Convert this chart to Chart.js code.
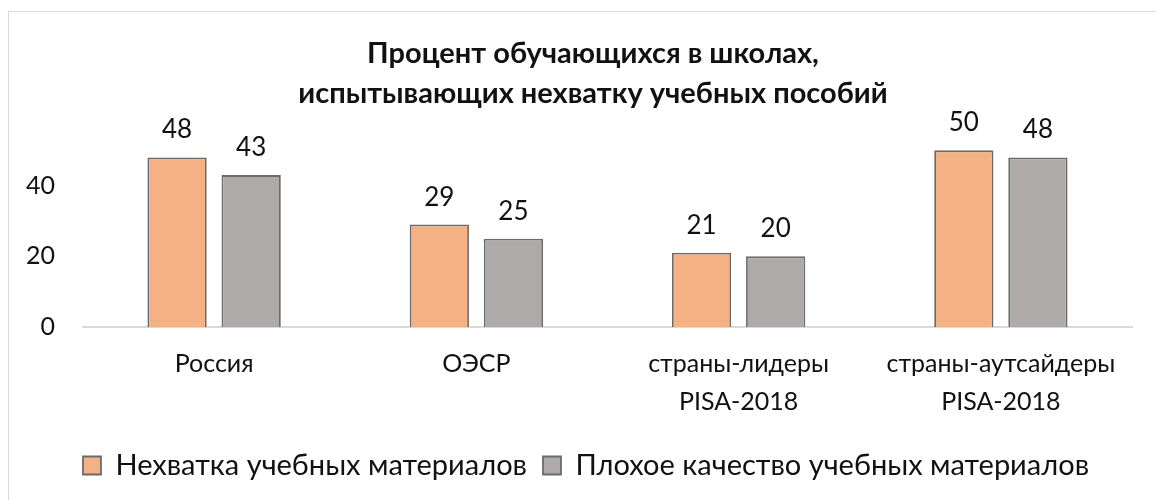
<!DOCTYPE html>
<html>
<head>
<meta charset="utf-8">
<script src="https://cdn.jsdelivr.net/npm/chart.js@4.4.1/dist/chart.umd.min.js"></script>
<style>
  html, body { margin: 0; padding: 0; background: #fff; overflow: hidden; }
  #wrap { position: relative; width: 1156px; height: 500px; }
  #frame { position: absolute; left: 8px; top: 11px; width: 1200px; height: 600px; border: 1.5px solid #d9d9d9; box-sizing: border-box; }
  canvas { position: absolute; left: 0; top: 0; }
</style>
</head>
<body>
<div id="wrap">
  <div id="frame"></div>
  <canvas id="c" width="1156" height="500"></canvas>
</div>
<script>
const categories = [["Россия"], ["ОЭСР"], ["страны-лидеры", "PISA-2018"], ["страны-аутсайдеры", "PISA-2018"]];
const shortageValues = [48, 29, 21, 50];
const poorQualityValues = [43, 25, 20, 48];
const seriesNames = ["Нехватка учебных материалов", "Плохое качество учебных материалов"];
const yTicks = [0, 20, 40];
const titleLines = ["Процент обучающихся в школах,", "испытывающих нехватку учебных пособий"];

const FONT = "Lato, 'Open Sans', sans-serif";

const valueLabels = {
  id: 'valueLabels',
  afterDatasetsDraw(chart) {
    const ctx = chart.ctx;
    ctx.save();
    ctx.font = "26px " + FONT;
    ctx.fillStyle = "#111";
    ctx.textAlign = "center";
    ctx.textBaseline = "alphabetic";
    chart.data.datasets.forEach((ds, i) => {
      chart.getDatasetMeta(i).data.forEach((bar, j) => {
        ctx.fillText(String(ds.data[j]), bar.x, bar.y - 19);
      });
    });
    ctx.restore();
  }
};

// nudge title and legend boxes to match the reference's centring
const shiftBoxes = {
  id: 'shiftBoxes',
  afterLayout(chart) {
    const t = chart.titleBlock;
    if (t) { t.left += 27; t.right += 27; t.top += 2; t.bottom += 2; }
    const l = chart.legend;
    if (l) { l.left += 20; l.right += 20; l.top -= 4; l.bottom -= 4; }
  }
};

new Chart(document.getElementById('c'), {
  type: 'bar',
  data: {
    labels: categories,
    datasets: [
      { label: seriesNames[0], data: shortageValues, backgroundColor: '#F4B183', borderColor: '#6b6b6b', borderWidth: 1.8 },
      { label: seriesNames[1], data: poorQualityValues, backgroundColor: '#AEAAAA', borderColor: '#6b6b6b', borderWidth: 1.8 }
    ]
  },
  options: {
    responsive: false,
    animation: false,
    devicePixelRatio: 1,
    categoryPercentage: 0.565,
    barPercentage: 0.8,
    layout: { padding: { left: 0, right: 24, top: 0, bottom: 6 } },
    plugins: {
      title: {
        display: true,
        text: titleLines,
        color: '#111',
        font: { family: FONT, size: 29, weight: 'bold', lineHeight: 1.38 },
        padding: { top: 32, bottom: 3 }
      },
      legend: {
        display: true,
        position: 'bottom',
        labels: {
          color: '#111',
          font: { family: FONT, size: 29 },
          boxWidth: 18,
          boxHeight: 18,
          padding: 16,
          useBorderRadius: false
        }
      },
      tooltip: { enabled: false }
    },
    scales: {
      x: {
        grid: { display: false, drawTicks: false },
        border: { display: true, color: '#d9d9d9', width: 2 },
        ticks: { color: '#111', font: { family: FONT, size: 25, lineHeight: 1.52 }, padding: 18, maxRotation: 0, autoSkip: false }
      },
      y: {
        min: 0,
        max: 60,
        afterBuildTicks(axis) { axis.ticks = yTicks.map(v => ({ value: v })); },
        afterFit(axis) { axis.width = 83; },
        grid: { display: false, drawTicks: false },
        border: { display: false },
        ticks: { color: '#111', font: { family: FONT, size: 25 }, padding: 28 }
      }
    }
  },
  plugins: [valueLabels, shiftBoxes]
});
</script>
</body>
</html>
